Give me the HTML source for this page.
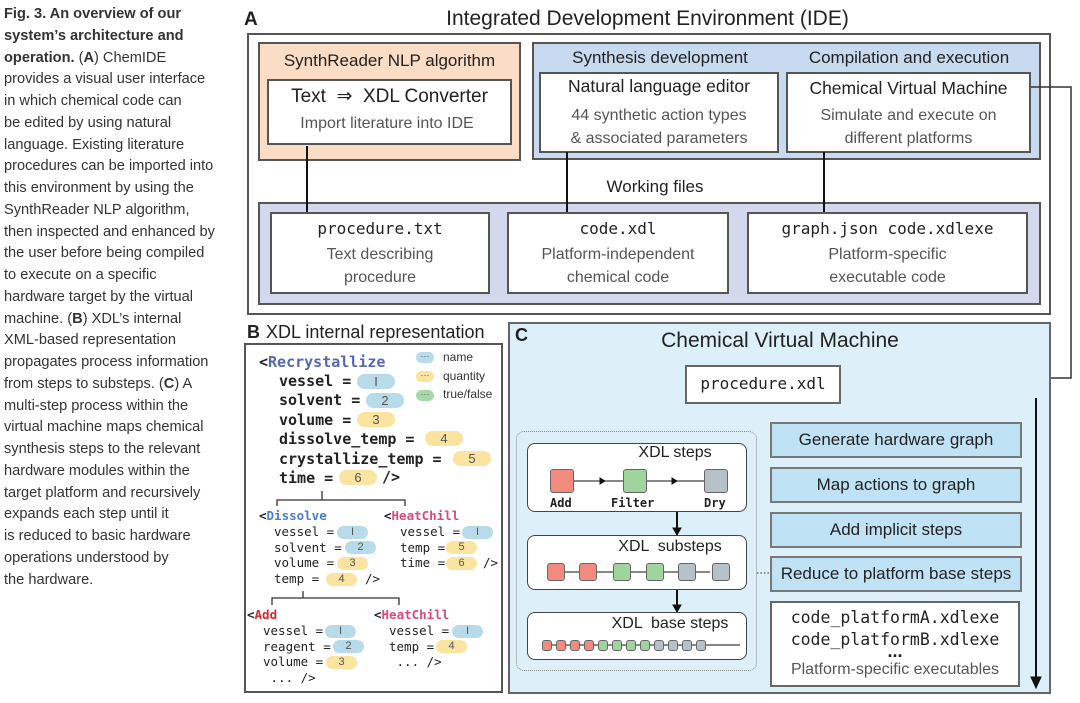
<!DOCTYPE html>
<html><head><meta charset="utf-8"><style>
*{margin:0;padding:0;box-sizing:border-box}
body{width:1080px;height:703px;background:#fff;position:relative;overflow:hidden;font-family:"Liberation Sans",sans-serif;color:#222}
.a{position:absolute}
.b{position:absolute;border:2px solid #555}
.c{position:absolute;text-align:center;white-space:nowrap}
.m{font-family:"DejaVu Sans Mono","Liberation Mono",monospace}
.cap{position:absolute;left:4px;top:4px;font-family:"Liberation Sans Narrow","Liberation Sans",sans-serif;font-size:14.6px;line-height:21.75px;color:#333;white-space:nowrap}
.bt{position:absolute;white-space:nowrap;font-family:"DejaVu Sans Mono",monospace;color:#222}
.p{position:absolute;border-radius:8px;text-align:center;font-family:"Liberation Sans",sans-serif;color:#555}
.nb{background:#b7dbe9}.qy{background:#fbe3a0}
.sq{position:absolute;border:1px solid #666;border-radius:3px}
.r{background:#f28b7d}.g{background:#9fd49d}.y{background:#b6c1c8}
.btn{position:absolute;left:770px;width:252px;border:2px solid #777;background:#bfe2f4;text-align:center;font-size:17px;color:#222}
</style></head><body>

<div class="cap"><b>Fig. 3. An overview of our<br>system’s architecture and<br>operation.</b> (<b>A</b>) ChemIDE<br>provides a visual user interface<br>in which chemical code can<br>be edited by using natural<br>language. Existing literature<br>procedures can be imported into<br>this environment by using the<br>SynthReader NLP algorithm,<br>then inspected and enhanced by<br>the user before being compiled<br>to execute on a specific<br>hardware target by the virtual<br>machine. (<b>B</b>) XDL’s internal<br>XML-based representation<br>propagates process information<br>from steps to substeps. (<b>C</b>) A<br>multi-step process within the<br>virtual machine maps chemical<br>synthesis steps to the relevant<br>hardware modules within the<br>target platform and recursively<br>expands each step until it<br>is reduced to basic hardware<br>operations understood by<br>the hardware.</div>

<!-- A -->
<div class="a" style="left:244px;top:9px;font-size:19px;font-weight:bold">A</div>
<div class="c" style="left:380px;width:535px;top:7px;font-size:21px">Integrated Development Environment (IDE)</div>
<div class="b" style="left:247px;top:33px;width:804px;height:282px"></div>
<div class="b" style="left:258px;top:42px;width:263px;height:119px;background:#fbdcc4"></div>
<div class="c" style="left:258px;width:263px;top:51px;font-size:17px">SynthReader NLP algorithm</div>
<div class="b" style="left:267px;top:79px;width:245px;height:66px;background:#fff"></div>
<div class="c" style="left:267px;width:245px;top:85px;font-size:19px">Text &nbsp;⇒ &nbsp;XDL Converter</div>
<div class="c" style="left:267px;width:240px;top:115px;font-size:16px;color:#555">Import literature into IDE</div>

<div class="b" style="left:532px;top:42px;width:509px;height:118px;background:#c7daf0"></div>
<div class="c" style="left:540px;width:240px;top:48px;font-size:17px">Synthesis development</div>
<div class="c" style="left:784px;width:250px;top:48px;font-size:17px">Compilation and execution</div>
<div class="b" style="left:539px;top:72px;width:240px;height:81px;background:#fff"></div>
<div class="c" style="left:539px;width:240px;top:76px;font-size:17.5px">Natural language editor</div>
<div class="c" style="left:539px;width:240px;top:104px;font-size:16px;color:#555;line-height:23px">44 synthetic action types<br>&amp; associated parameters</div>
<div class="b" style="left:786px;top:72px;width:245px;height:81px;background:#fff"></div>
<div class="c" style="left:786px;width:245px;top:78px;font-size:17.5px">Chemical Virtual Machine</div>
<div class="c" style="left:786px;width:245px;top:104px;font-size:16px;color:#555;line-height:23px">Simulate and execute on<br>different platforms</div>

<div class="c" style="left:560px;width:190px;top:177px;font-size:17px">Working files</div>
<div class="b" style="left:258px;top:202px;width:783px;height:103px;background:#d3d8ed"></div>
<div class="b" style="left:270px;top:212px;width:220px;height:82px;background:#fff"></div>
<div class="c m" style="left:270px;width:220px;top:219px;font-size:16px">procedure.txt</div>
<div class="c" style="left:270px;width:220px;top:243px;font-size:16px;color:#555;line-height:23px">Text describing<br>procedure</div>
<div class="b" style="left:507px;top:212px;width:222px;height:82px;background:#fff"></div>
<div class="c m" style="left:507px;width:222px;top:219px;font-size:16px">code.xdl</div>
<div class="c" style="left:507px;width:222px;top:243px;font-size:16px;color:#555;line-height:23px">Platform-independent<br>chemical code</div>
<div class="b" style="left:747px;top:212px;width:281px;height:82px;background:#fff"></div>
<div class="c m" style="left:747px;width:281px;top:219px;font-size:16px">graph.json code.xdlexe</div>
<div class="c" style="left:747px;width:281px;top:243px;font-size:16px;color:#555;line-height:23px">Platform-specific<br>executable code</div>

<svg class="a" style="left:0;top:0" width="1080" height="703">
<g stroke="#111" stroke-width="2" fill="none">
<line x1="307" y1="146" x2="307" y2="212"/>
<line x1="567" y1="152" x2="567" y2="212"/>
<line x1="824" y1="152" x2="824" y2="212"/>
</g>
<polyline points="1031,87 1071,87 1071,378 1051,378" stroke="#333" stroke-width="1.5" fill="none"/>
</svg>

<!-- B -->
<div class="a" style="left:247px;top:322px;font-size:18px;font-weight:bold">B</div>
<div class="a" style="left:266px;top:322px;font-size:18px">XDL internal representation</div>
<div class="b" style="left:244px;top:343px;width:259px;height:350px"></div>

<div class="bt" style="left:259px;top:353px;font-size:15px;font-weight:bold">&lt;<span style="color:#5568b0">Recrystallize</span></div>
<div class="p nb" style="left:416px;top:352px;width:18px;height:11px;font-size:9px;line-height:8px">···</div>
<div class="a" style="left:443px;top:350px;font-size:12px;color:#333">name</div>
<div class="p qy" style="left:416px;top:371px;width:18px;height:11px;font-size:9px;line-height:8px">···</div>
<div class="a" style="left:443px;top:369px;font-size:12px;color:#333">quantity</div>
<div class="p" style="left:416px;top:390px;width:18px;height:11px;background:#a8d8a8;font-size:9px;line-height:8px">···</div>
<div class="a" style="left:443px;top:387px;font-size:12px;color:#333">true/false</div>

<div class="bt" style="left:279px;top:372px;font-size:15px;font-weight:bold;line-height:19.4px">vessel =<br>solvent =<br>volume =<br>dissolve_temp =<br>crystallize_temp =<br>time =</div>
<div class="p nb" style="left:357px;top:374px;width:38px;height:15px;font-size:13px;line-height:15px">I</div>
<div class="p nb" style="left:366px;top:393px;width:38px;height:15px;font-size:13px;line-height:15px">2</div>
<div class="p qy" style="left:357px;top:412px;width:38px;height:15px;font-size:13px;line-height:15px">3</div>
<div class="p qy" style="left:425px;top:431px;width:38px;height:15px;font-size:13px;line-height:15px">4</div>
<div class="p qy" style="left:453px;top:451px;width:38px;height:15px;font-size:13px;line-height:15px">5</div>
<div class="p qy" style="left:339px;top:470px;width:38px;height:15px;font-size:13px;line-height:15px">6</div>
<div class="bt" style="left:382px;top:468px;font-size:15px;font-weight:bold">/&gt;</div>

<svg class="a" style="left:0;top:0" width="1080" height="703">
<g stroke="#333" stroke-width="1.3" fill="none">
<polyline points="277,506 277,500 405,500 405,506"/><line x1="322" y1="491" x2="322" y2="500"/>
<polyline points="272,605 272,598 399,598 399,605"/><line x1="303" y1="591" x2="303" y2="598"/>
</g></svg>

<div class="bt" style="left:259px;top:508px;font-size:12.5px;font-weight:bold">&lt;<span style="color:#4a7fc8">Dissolve</span></div>
<div class="bt" style="left:274px;top:524px;font-size:12.5px;line-height:15.7px">vessel =<br>solvent =<br>volume =<br>temp =</div>
<div class="p nb" style="left:337px;top:526px;width:31px;height:13px;font-size:11px;line-height:13px">I</div>
<div class="p nb" style="left:345px;top:541px;width:31px;height:13px;font-size:11px;line-height:13px">2</div>
<div class="p qy" style="left:337px;top:557px;width:31px;height:13px;font-size:11px;line-height:13px">3</div>
<div class="p qy" style="left:326px;top:573px;width:31px;height:13px;font-size:11px;line-height:13px">4</div>
<div class="bt" style="left:365px;top:571px;font-size:12.5px">/&gt;</div>

<div class="bt" style="left:384px;top:508px;font-size:12.5px;font-weight:bold">&lt;<span style="color:#d94a7a">HeatChill</span></div>
<div class="bt" style="left:400px;top:524px;font-size:12.5px;line-height:15.7px">vessel =<br>temp =<br>time =</div>
<div class="p nb" style="left:462px;top:526px;width:31px;height:13px;font-size:11px;line-height:13px">I</div>
<div class="p qy" style="left:446px;top:541px;width:31px;height:13px;font-size:11px;line-height:13px">5</div>
<div class="p qy" style="left:446px;top:557px;width:31px;height:13px;font-size:11px;line-height:13px">6</div>
<div class="bt" style="left:483px;top:555px;font-size:12.5px">/&gt;</div>

<div class="bt" style="left:247px;top:607px;font-size:12.5px;font-weight:bold">&lt;<span style="color:#d42a2a">Add</span></div>
<div class="bt" style="left:263px;top:623px;font-size:12.5px;line-height:15.7px">vessel =<br>reagent =<br>volume =<br>&nbsp;...  /&gt;</div>
<div class="p nb" style="left:325px;top:625px;width:31px;height:13px;font-size:11px;line-height:13px">I</div>
<div class="p nb" style="left:333px;top:640px;width:31px;height:13px;font-size:11px;line-height:13px">2</div>
<div class="p qy" style="left:326px;top:656px;width:31px;height:13px;font-size:11px;line-height:13px">3</div>

<div class="bt" style="left:374px;top:607px;font-size:12.5px;font-weight:bold">&lt;<span style="color:#d94a7a">HeatChill</span></div>
<div class="bt" style="left:389px;top:623px;font-size:12.5px;line-height:15.7px">vessel =<br>temp =<br>&nbsp;... /&gt;</div>
<div class="p nb" style="left:452px;top:625px;width:31px;height:13px;font-size:11px;line-height:13px">I</div>
<div class="p qy" style="left:436px;top:640px;width:31px;height:13px;font-size:11px;line-height:13px">4</div>

<!-- C -->
<div class="b" style="left:508px;top:322px;width:543px;height:372px;background:#ddeff8;border-color:#666"></div>
<div class="a" style="left:515px;top:325px;font-size:18px;font-weight:bold">C</div>
<div class="c" style="left:600px;width:360px;top:329px;font-size:21px">Chemical Virtual Machine</div>
<div class="b" style="left:685px;top:365px;width:156px;height:39px;background:#fff;border-color:#666"></div>
<div class="c m" style="left:685px;width:156px;top:374px;font-size:16px">procedure.xdl</div>

<div class="a" style="left:516px;top:431px;width:241px;height:240px;border:1.5px dotted #888;border-radius:8px"></div>
<div class="a" style="left:527px;top:443px;width:220px;height:69px;border:1.5px solid #444;border-radius:8px;background:#fff"></div>
<div class="a" style="left:527px;top:535px;width:220px;height:55px;border:1.5px solid #444;border-radius:8px;background:#fff"></div>
<div class="a" style="left:527px;top:612px;width:220px;height:48px;border:1.5px solid #444;border-radius:8px;background:#fff"></div>
<div class="c" style="left:600px;width:150px;top:444px;font-size:16px">XDL steps</div>
<div class="c" style="left:595px;width:150px;top:538px;font-size:16px">XDL &nbsp;substeps</div>
<div class="c" style="left:595px;width:150px;top:615px;font-size:16px">XDL &nbsp;base steps</div>
<svg class="a" style="left:0;top:0" width="1080" height="703">
<g stroke="#111" stroke-width="1" fill="#111">
<line x1="574" y1="481" x2="623" y2="481"/><line x1="647" y1="481" x2="704" y2="481"/>
<path d="M600 478 L605 481 L600 484Z"/><path d="M672 478 L677 481 L672 484Z"/>
<line x1="565" y1="572" x2="710" y2="572"/>
<line x1="543" y1="645" x2="740" y2="645"/>
</g>
<g stroke="#111" stroke-width="2" fill="#111">
<line x1="677" y1="512" x2="677" y2="530"/><path d="M673 528 L677 535 L681 528Z" stroke-width="1"/>
<line x1="677" y1="590" x2="677" y2="607"/><path d="M673 605 L677 612 L681 605Z" stroke-width="1"/>
<line x1="1036" y1="398" x2="1036" y2="680"/><path d="M1031 677 L1036 688 L1041 677Z" stroke-width="1"/>
</g>
<line x1="757" y1="573" x2="770" y2="573" stroke="#555" stroke-width="1.2" stroke-dasharray="1.5,2"/>
</svg>
<div class="sq r" style="left:550px;top:469px;width:24px;height:24px"></div>
<div class="sq g" style="left:623px;top:469px;width:24px;height:24px"></div>
<div class="sq y" style="left:704px;top:469px;width:24px;height:24px"></div>
<div class="bt" style="left:550px;top:496px;font-size:12px;font-weight:bold">Add</div>
<div class="bt" style="left:611px;top:496px;font-size:12px;font-weight:bold">Filter</div>
<div class="bt" style="left:704px;top:496px;font-size:12px;font-weight:bold">Dry</div>

<div class="sq r" style="left:547px;top:563px;width:18px;height:18px"></div>
<div class="sq r" style="left:579px;top:563px;width:18px;height:18px"></div>
<div class="sq g" style="left:613px;top:563px;width:18px;height:18px"></div>
<div class="sq g" style="left:646px;top:563px;width:18px;height:18px"></div>
<div class="sq y" style="left:678px;top:563px;width:18px;height:18px"></div>
<div class="sq y" style="left:712px;top:563px;width:18px;height:18px"></div>

<div class="sq r" style="left:542px;top:640px;width:10px;height:11px"></div>
<div class="sq r" style="left:556px;top:640px;width:10px;height:11px"></div>
<div class="sq r" style="left:570px;top:640px;width:10px;height:11px"></div>
<div class="sq r" style="left:584px;top:640px;width:10px;height:11px"></div>
<div class="sq g" style="left:598px;top:640px;width:10px;height:11px"></div>
<div class="sq g" style="left:612px;top:640px;width:10px;height:11px"></div>
<div class="sq g" style="left:626px;top:640px;width:10px;height:11px"></div>
<div class="sq g" style="left:640px;top:640px;width:10px;height:11px"></div>
<div class="sq y" style="left:654px;top:640px;width:10px;height:11px"></div>
<div class="sq y" style="left:668px;top:640px;width:10px;height:11px"></div>
<div class="sq y" style="left:682px;top:640px;width:10px;height:11px"></div>
<div class="sq y" style="left:696px;top:640px;width:10px;height:11px"></div>

<div class="btn" style="top:422px;height:36px;line-height:32px">Generate hardware graph</div>
<div class="btn" style="top:467px;height:36px;line-height:32px">Map actions to graph</div>
<div class="btn" style="top:512px;height:36px;line-height:32px">Add implicit steps</div>
<div class="btn" style="top:556px;height:36px;line-height:32px">Reduce to platform base steps</div>
<div class="b" style="left:770px;top:601px;width:250px;height:86px;background:#fff;border-color:#666"></div>
<div class="c m" style="left:770px;width:250px;top:607px;font-size:16.5px;line-height:22px">code_platformA.xdlexe<br>code_platformB.xdlexe</div>
<div class="c" style="left:770px;width:250px;top:641px;font-size:18px;font-weight:bold">...</div>
<div class="c" style="left:770px;width:250px;top:661px;font-size:16px;color:#555">Platform-specific executables</div>
</body></html>
